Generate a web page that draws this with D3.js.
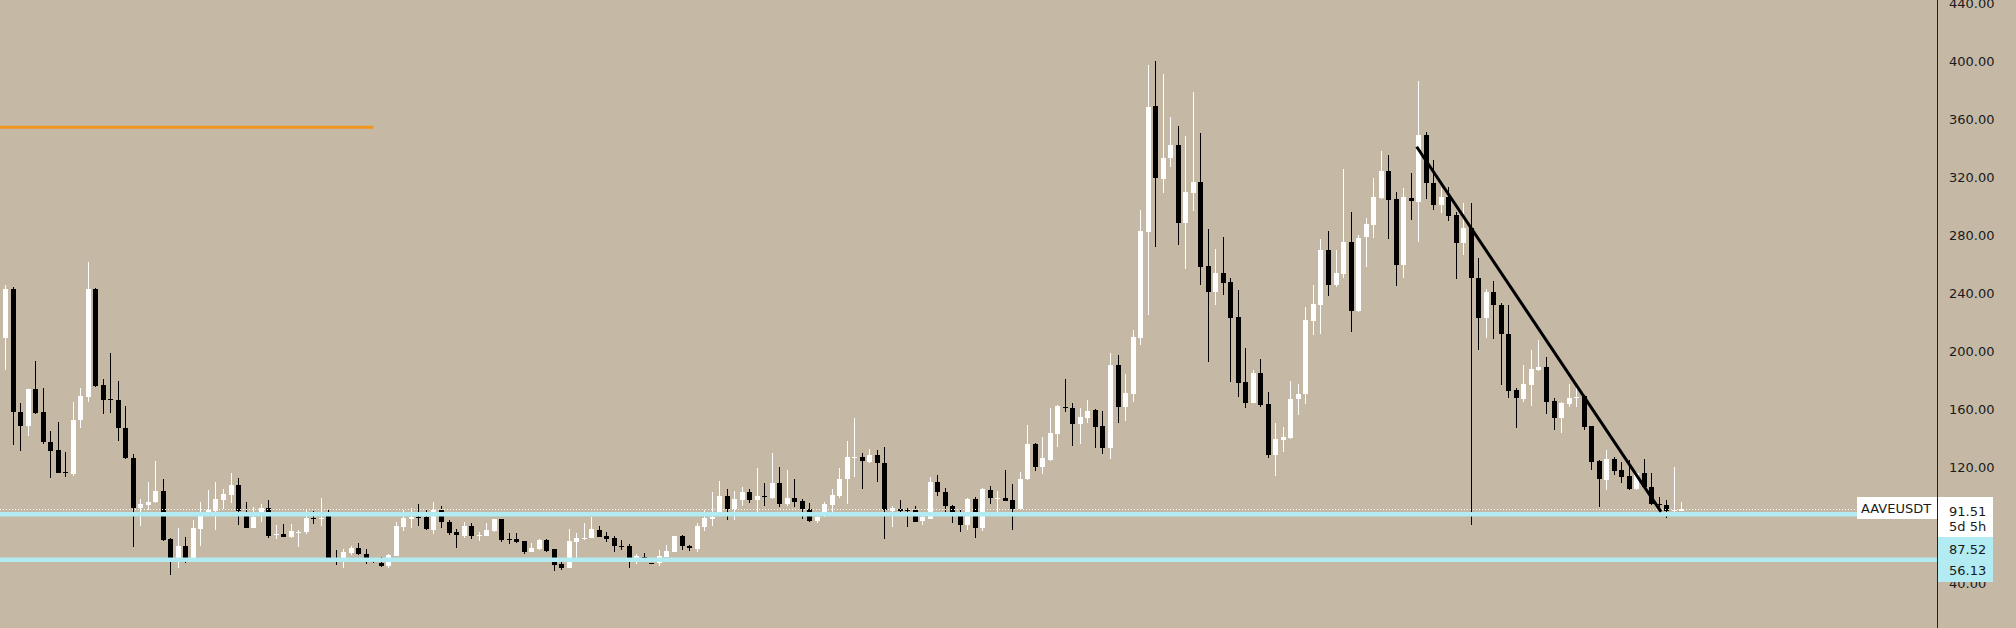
<!doctype html>
<html>
<head>
<meta charset="utf-8">
<script src="https://cdn.jsdelivr.net/npm/d3@7"></script>
<style>
    html, body { margin: 0; padding: 0; background: #c5b8a5; }
    svg { display: block; }
    text { font-family: "DejaVu Sans", Verdana, sans-serif; font-size: 13px; fill: #1a1a1a; }
</style>
</head>
<body>
<svg id="chart"></svg>
<script>
    // daily candles
    var opens = [209.3,242.9,158.3,148.6,173.9,157.8,137.4,131.8,116.9,115.0,152.5,168.6,242.9,176.7,167.2,166.3,146.8,126.1,91.6,93.9,
        95.7,103.5,70.4,57.0,65.8,57.0,77.3,89.0,89.9,97.3,101.0,107.7,87.0,78.4,89.3,91.6,73.0,73.8,72.0,75.0,
        75.0,85.3,84.0,89.3,57.0,57.0,60.5,64.4,60.0,56.0,54.1,51.8,58.9,78.9,84.6,85.5,85.8,76.6,90.4,82.3,
        75.2,72.5,79.4,72.5,72.5,76.1,84.0,70.6,70.6,69.0,61.7,63.3,69.7,63.3,53.1,50.6,68.6,71.1,71.3,76.6,
        72.5,71.5,66.0,65.6,56.4,58.4,53.8,53.6,58.2,61.7,72.5,65.8,63.3,78.9,84.6,89.3,100.1,90.9,97.3,103.0,
        97.3,99.8,99.1,108.8,94.5,99.1,96.8,90.9,83.0,89.3,93.9,100.1,111.8,126.2,126.7,123.8,128.4,123.1,89.7,91.1,
        90.6,90.4,82.8,84.6,110.0,103.0,93.2,88.0,80.1,97.8,77.8,104.2,98.3,98.5,97.3,90.9,111.8,135.8,120.2,125.3,
        143.2,161.8,161.1,150.1,154.0,159.3,148.3,132.9,190.4,161.6,170.8,209.2,282.4,369.1,318.7,333.0,342.2,288.1,309.3,316.9,
        258.7,241.0,254.1,247.8,223.7,178.9,164.4,185.1,163.4,128.3,139.1,140.2,166.7,170.8,220.9,231.8,269.7,245.6,253.1,275.0,
        227.8,278.9,287.0,305.8,324.2,304.7,259.4,306.0,303.1,349.1,315.7,300.7,306.5,293.9,274.8,285.3,250.8,222.6,241.0,231.8,
        212.2,173.1,166.7,176.6,186.9,189.2,165.5,153.6,163.4,167.8,169.0,148.3,124.1,111.5,126.0,117.9,113.8,105.3,116.1,106.4,
        94.9,94.2,89.9,89.9];
    var highs = [245.7,244.0,164.0,174.0,193.2,174.4,144.9,150.9,130.2,165.2,174.8,261.8,243.5,180.6,198.5,179.4,162.2,128.8,98.0,110.0,
        124.4,111.8,71.0,77.8,72.0,83.5,96.2,104.2,109.7,105.1,115.7,112.7,95.7,92.7,94.3,97.3,80.0,80.7,80.7,76.6,
        90.4,90.0,98.9,90.4,62.8,63.9,66.0,67.4,63.9,56.5,58.2,59.8,82.3,90.4,91.6,94.5,90.4,96.2,93.4,83.5,
        77.3,81.9,81.2,75.5,81.7,84.6,84.6,74.3,74.3,69.3,67.9,70.2,70.2,63.9,54.3,77.3,74.3,81.7,85.8,79.4,
        75.5,72.7,69.7,66.7,60.0,60.5,54.0,62.8,66.3,72.5,73.2,66.2,81.2,90.4,103.0,110.4,104.7,103.7,106.5,104.7,
        119.2,109.3,130.0,120.3,118.0,112.2,97.8,95.0,88.1,96.2,104.7,119.2,138.0,154.1,130.0,132.5,131.8,134.1,93.2,97.3,
        92.2,93.2,88.0,112.9,114.6,105.4,93.9,90.4,98.5,99.6,105.4,107.0,103.7,118.0,108.3,116.9,149.0,136.8,140.9,160.5,
        162.8,180.5,164.4,160.5,166.2,160.0,158.8,198.9,197.3,184.6,214.5,297.3,397.4,400.3,391.1,361.7,355.3,348.4,379.0,350.2,
        284.6,270.4,278.9,250.2,242.1,201.9,186.9,194.3,172.0,150.6,147.8,179.5,177.7,230.6,245.6,277.1,282.8,269.7,325.6,295.7,
        280.1,291.6,319.2,338.2,335.3,310.0,312.3,322.6,386.3,351.4,331.8,312.3,313.0,296.2,301.9,302.4,264.0,242.6,248.6,232.9,
        231.8,174.3,190.4,200.7,207.6,196.1,167.4,165.0,177.2,176.6,169.7,148.5,124.8,131.7,127.1,123.7,124.8,116.8,126.0,116.1,
        99.5,97.2,119.8,96.1];
    var lows = [187.0,135.3,131.4,141.7,156.4,135.9,112.7,115.7,113.4,113.9,146.8,164.7,175.5,156.4,157.6,138.2,125.6,65.1,79.4,90.4,
        95.0,69.0,46.0,50.6,53.6,56.5,65.6,88.6,76.6,90.9,95.0,80.1,78.0,78.0,82.4,71.3,70.4,71.8,71.5,65.1,
        73.8,80.7,79.4,55.9,52.5,50.6,59.4,59.4,53.1,54.0,51.3,50.8,58.7,76.1,78.4,79.4,76.8,73.8,77.8,73.2,
        64.6,70.9,70.4,69.0,72.3,75.4,68.6,66.7,67.9,60.0,61.3,62.8,61.7,48.3,49.0,50.2,57.0,69.7,70.9,71.6,
        68.6,61.7,62.8,50.6,53.1,55.9,53.4,51.8,58.0,61.5,62.8,62.3,61.7,76.1,79.4,89.0,83.5,83.5,93.2,95.0,
        89.3,93.2,97.8,92.7,93.2,92.7,84.6,82.4,81.7,85.8,89.3,98.5,94.5,113.4,104.7,123.1,110.0,70.2,78.9,88.1,
        78.9,82.0,80.1,84.4,100.1,89.3,81.2,75.5,76.6,71.5,76.1,94.5,89.3,96.6,76.6,90.5,111.0,117.4,115.6,124.3,
        134.0,158.2,134.5,135.8,150.6,132.9,129.4,125.9,150.6,151.9,165.1,204.2,224.9,272.0,309.3,327.2,273.2,256.4,296.9,245.6,
        192.7,231.8,238.7,178.9,168.5,160.5,164.0,161.6,126.6,113.8,130.6,139.7,155.9,163.9,211.1,212.2,238.0,244.4,250.2,213.4,
        227.0,258.2,277.8,305.0,277.1,244.9,250.2,290.4,275.5,304.7,297.3,295.0,289.9,249.5,266.3,80.0,200.7,208.8,208.1,176.6,
        167.4,146.7,165.1,162.1,186.2,157.0,146.0,143.7,161.6,161.6,146.0,117.9,92.6,104.6,114.5,109.2,104.6,104.6,105.3,93.8,
        92.6,85.3,89.2,89.5];
    var closes = [242.9,158.3,148.6,173.9,157.6,137.6,131.4,116.2,115.7,152.5,169.1,242.9,176.0,166.3,166.3,146.8,126.1,92.0,94.3,95.9,
        103.7,69.7,57.0,65.8,57.0,78.2,86.3,90.4,98.2,101.4,107.7,89.7,78.4,85.6,91.6,72.5,74.0,72.0,76.1,75.6,
        85.3,84.0,85.3,57.0,55.5,61.7,64.6,59.8,56.4,54.5,51.8,59.4,79.4,85.3,85.8,85.1,77.1,90.4,81.9,74.8,
        72.9,79.4,72.7,72.9,76.6,84.0,69.7,70.2,68.6,61.7,64.6,69.7,62.3,52.5,50.6,69.2,70.9,71.5,77.1,72.0,
        70.2,65.8,65.6,57.0,58.7,58.0,53.6,58.9,62.1,72.5,65.6,64.0,79.6,85.3,85.8,100.1,90.9,98.0,102.6,97.3,
        100.1,99.4,108.8,94.5,99.1,96.2,90.9,83.0,85.8,94.3,100.8,112.2,126.7,126.7,124.4,128.4,122.6,90.4,91.6,89.9,
        90.2,82.4,85.8,110.0,103.0,93.2,88.1,80.1,97.8,77.8,104.7,98.5,98.7,96.8,90.9,111.8,135.8,120.2,126.6,143.7,
        162.1,161.4,150.1,154.7,158.6,147.8,132.9,190.4,161.6,171.3,209.9,282.8,368.6,319.2,333.4,342.2,288.1,310.0,316.9,258.2,
        241.0,254.1,247.2,223.2,178.2,164.4,185.1,162.8,128.3,139.7,140.9,166.9,170.8,221.4,232.4,269.7,245.6,253.6,275.0,227.8,
        278.4,287.6,306.5,324.2,304.2,259.4,306.5,303.5,349.1,315.7,300.7,306.5,293.2,274.8,285.3,250.6,222.6,241.0,231.8,212.2,
        172.7,167.4,177.2,187.6,189.2,165.1,153.6,164.4,168.0,168.2,147.8,123.7,112.2,126.0,117.4,113.3,105.3,116.1,106.4,94.9,
        93.8,89.9,90.3,91.51];

    var priceTicks = [40, 80, 120, 160, 200, 240, 280, 320, 360, 400, 440];
    var levels = [87.52, 56.13];          // cyan horizontal lines
    var lastPrice = 91.51;
    var orangeLevel = {price: 354.4, from: -1, to: 49};
    var trendLine = [{i: 187.8, p: 341.0}, {i: 220.3, p: 89.3}];
    var symbol = "AAVEUSDT", countdown = "5d 5h";

    var width = 2016, height = 628, axisX = 1937;

    var svg = d3.select("#chart").attr("width", width).attr("height", height);
    svg.append("rect").attr("width", width).attr("height", height).attr("fill", "#c5b8a5");

    var candles = opens.map(function(o, i){
        return {i: i, o: o, h: highs[i], l: lows[i], c: closes[i]};
    });

    var x = d3.scaleLinear().domain([0, candles.length - 1]).range([5, 5 + 7.517 * (candles.length - 1)]);
    var y = d3.scaleLinear().domain([0, 440]).range([641.2, 3.2]);

    var g = svg.append("g").attr("shape-rendering", "crispEdges");
    var candle = g.selectAll("g.candle").data(candles).enter().append("g").attr("class", "candle");
    candle.append("rect")
        .attr("x", function(d){ return Math.round(x(d.i)) - 0.5; })
        .attr("width", 1)
        .attr("y", function(d){ return y(d.h); })
        .attr("height", function(d){ return y(d.l) - y(d.h); })
        .attr("fill", function(d){ return d.c >= d.o ? "#fff" : "#000"; });
    candle.append("rect")
        .attr("x", function(d){ return Math.round(x(d.i)) - 2.5; })
        .attr("width", 5)
        .attr("y", function(d){ return y(Math.max(d.o, d.c)); })
        .attr("height", function(d){ return Math.max(1, Math.abs(y(d.o) - y(d.c))); })
        .attr("fill", function(d){ return d.c >= d.o ? "#fff" : "#000"; });

    // drawings
    svg.append("line")
        .attr("x1", 0).attr("x2", x(orangeLevel.to))
        .attr("y1", y(orangeLevel.price)).attr("y2", y(orangeLevel.price))
        .attr("stroke", "#f0961e").attr("stroke-width", 3);

    svg.selectAll("line.level").data(levels).enter().append("line")
        .attr("class", "level")
        .attr("x1", 0).attr("x2", axisX)
        .attr("y1", function(d){ return y(d); }).attr("y2", function(d){ return y(d); })
        .attr("stroke", "#b2ebf2").attr("stroke-width", 4.5);

    svg.append("line")
        .attr("x1", 0).attr("x2", axisX)
        .attr("y1", Math.round(y(lastPrice)) + 0.5).attr("y2", Math.round(y(lastPrice)) + 0.5)
        .attr("stroke", "#fff").attr("stroke-width", 1).attr("stroke-dasharray", "1,2");

    svg.append("line")
        .attr("x1", x(trendLine[0].i)).attr("y1", y(trendLine[0].p))
        .attr("x2", x(trendLine[1].i)).attr("y2", y(trendLine[1].p))
        .attr("stroke", "#000").attr("stroke-width", 3);

    // right price scale
    var axis = svg.append("g").attr("transform", "translate(" + axisX + ",0)")
        .call(d3.axisRight(y).tickValues(priceTicks).tickSize(0).tickPadding(12)
            .tickFormat(function(d){ return d.toFixed(2); }));
    axis.select(".domain").remove();
    axis.selectAll("text").attr("font-family", null).attr("font-size", null).attr("fill", "#1a1a1a");
    svg.append("line")
        .attr("x1", axisX + 0.5).attr("x2", axisX + 0.5).attr("y1", 0).attr("y2", height)
        .attr("stroke", "#222").attr("stroke-width", 1);

    // price labels
    svg.append("rect").attr("x", 1857).attr("y", 497).attr("width", 80).attr("height", 22).attr("fill", "#fff");
    svg.append("text").attr("x", 1861).attr("y", 508).attr("dy", "0.35em").text(symbol);
    svg.append("rect").attr("x", 1938).attr("y", 497).attr("width", 55).attr("height", 40).attr("fill", "#fff");
    svg.append("text").attr("x", 1949).attr("y", 511.5).attr("dy", "0.35em").text(lastPrice.toFixed(2));
    svg.append("text").attr("x", 1949).attr("y", 526.5).attr("dy", "0.35em").attr("fill", "#333").text(countdown);
    svg.append("rect").attr("x", 1938).attr("y", 537).attr("width", 55).attr("height", 45).attr("fill", "#b2ebf2");
    svg.selectAll("text.lvl").data(levels).enter().append("text")
        .attr("class", "lvl")
        .attr("x", 1949).attr("y", function(d, k){ return 549 + k * 21; }).attr("dy", "0.35em")
        .text(function(d){ return d.toFixed(2); });
</script>
</body>
</html>
